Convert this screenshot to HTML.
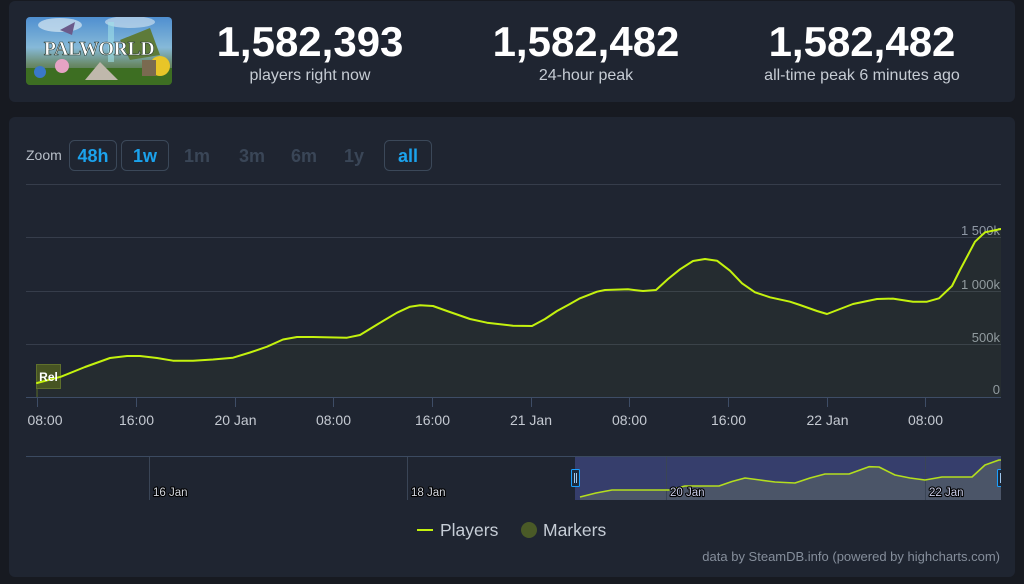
<!DOCTYPE html>
<html><head><meta charset="utf-8"><style>
html,body{margin:0;padding:0;background:#171a21;width:1024px;height:584px;overflow:hidden;}
svg{display:block;font-family:"Liberation Sans",sans-serif;}
</style></head><body>
<svg width="1024" height="584" viewBox="0 0 1024 584" xmlns="http://www.w3.org/2000/svg">
<defs>
<linearGradient id="sky" x1="0" y1="0" x2="0" y2="1">
<stop offset="0" stop-color="#4f8fd0"/><stop offset="0.45" stop-color="#86b9d8"/><stop offset="0.7" stop-color="#6a8a6a"/><stop offset="1" stop-color="#2f5a1e"/>
</linearGradient>
<clipPath id="imgc"><rect x="26" y="17" width="146" height="68" rx="4"/></clipPath>
<clipPath id="plot"><rect x="26" y="150" width="975" height="260"/></clipPath>
<clipPath id="nav"><rect x="26" y="456" width="975" height="45"/></clipPath>
</defs>
<rect x="0" y="0" width="1024" height="584" fill="#171a21"/>
<!-- header panel -->
<rect x="9" y="1" width="1006" height="101" rx="6" fill="#1f2531"/>
<g clip-path="url(#imgc)">
<rect x="26" y="17" width="146" height="68" fill="url(#sky)"/>
<ellipse cx="60" cy="25" rx="22" ry="7" fill="#d9e8f2" opacity="0.7"/>
<ellipse cx="130" cy="22" rx="25" ry="6" fill="#d9e8f2" opacity="0.6"/>
<rect x="108" y="22" width="6" height="40" fill="#9fe0e8" opacity="0.6"/>
<path d="M60 30 L75 22 L72 35 Z" fill="#6b5b8a"/>
<path d="M120 40 L150 28 L160 55 L130 60 Z" fill="#5e7b3a"/>
<rect x="26" y="68" width="146" height="17" fill="#3d6e22"/>
<circle cx="40" cy="72" r="6" fill="#3a78c8"/>
<circle cx="62" cy="66" r="7" fill="#e6a3c4"/>
<circle cx="160" cy="66" r="10" fill="#e8c528"/>
<path d="M85 80 L100 62 L118 80 Z" fill="#c0b8ac"/>
<rect x="142" y="60" width="14" height="16" fill="#7a6a50"/>
</g>
<text x="99" y="55" text-anchor="middle" font-family="Liberation Serif,serif" font-weight="bold" font-size="20" fill="#ffffff" stroke="#2a3a30" stroke-width="0.6" letter-spacing="-0.5">PALWORLD</text>

<g font-weight="bold" font-size="42" fill="#ffffff" text-anchor="middle">
<text x="310" y="56">1,582,393</text>
<text x="586" y="56">1,582,482</text>
<text x="862" y="56">1,582,482</text>
</g>
<g font-size="16" fill="#c6ccd4" text-anchor="middle">
<text x="310" y="80">players right now</text>
<text x="586" y="80">24-hour peak</text>
<text x="862" y="80">all-time peak 6 minutes ago</text>
</g>

<!-- chart panel -->
<rect x="9" y="117" width="1006" height="460" rx="6" fill="#1f2531"/>
<text x="26" y="160" font-size="14" fill="#b8bfc8">Zoom</text>
<g fill="none" stroke="#3b4859" stroke-width="1">
<rect x="69.5" y="140.5" width="47" height="30" rx="5"/>
<rect x="121.5" y="140.5" width="47" height="30" rx="5"/>
<rect x="384.5" y="140.5" width="47" height="30" rx="5"/>
</g>
<g font-weight="bold" font-size="18" text-anchor="middle">
<text x="93" y="162" fill="#1ba2ec">48h</text>
<text x="145" y="162" fill="#1ba2ec">1w</text>
<text x="197" y="162" fill="#3a4657">1m</text>
<text x="252" y="162" fill="#3a4657">3m</text>
<text x="304" y="162" fill="#3a4657">6m</text>
<text x="354" y="162" fill="#3a4657">1y</text>
<text x="408" y="162" fill="#1ba2ec">all</text>
</g>

<!-- gridlines -->
<g stroke="#363d4b" stroke-width="1">
<line x1="26" y1="184.5" x2="1001" y2="184.5"/>
<line x1="26" y1="237.5" x2="1001" y2="237.5"/>
<line x1="26" y1="291.5" x2="1001" y2="291.5"/>
<line x1="26" y1="344.5" x2="1001" y2="344.5"/>
</g>
<line x1="26" y1="397.5" x2="1001" y2="397.5" stroke="#3e4d66" stroke-width="1"/>
<g stroke="#3e4d66" stroke-width="1">
<line x1="37.5" y1="397" x2="37.5" y2="407"/>
<line x1="136.5" y1="397" x2="136.5" y2="407"/>
<line x1="235.5" y1="397" x2="235.5" y2="407"/>
<line x1="333.5" y1="397" x2="333.5" y2="407"/>
<line x1="432.5" y1="397" x2="432.5" y2="407"/>
<line x1="531.5" y1="397" x2="531.5" y2="407"/>
<line x1="629.5" y1="397" x2="629.5" y2="407"/>
<line x1="728.5" y1="397" x2="728.5" y2="407"/>
<line x1="827.5" y1="397" x2="827.5" y2="407"/>
<line x1="925.5" y1="397" x2="925.5" y2="407"/>
</g>
<g font-size="14" fill="#c5cad2" text-anchor="middle">
<text x="45" y="425">08:00</text>
<text x="136.5" y="425">16:00</text>
<text x="235.5" y="425">20 Jan</text>
<text x="333.5" y="425">08:00</text>
<text x="432.5" y="425">16:00</text>
<text x="531" y="425">21 Jan</text>
<text x="629.5" y="425">08:00</text>
<text x="728.5" y="425">16:00</text>
<text x="827.5" y="425">22 Jan</text>
<text x="925.5" y="425">08:00</text>
</g>
<g font-size="13" fill="#8f98a5" text-anchor="end">
<text x="1000" y="235">1 500k</text>
<text x="1000" y="289">1 000k</text>
<text x="1000" y="342">500k</text>
<text x="1000" y="394">0</text>
</g>

<!-- series -->
<g clip-path="url(#plot)">
<polygon fill="#c4f20e" fill-opacity="0.04" points="37,383 61,376.7 85,367 110,358 127,356 140,356 157,358 173,360.7 193,360.7 213,359.5 233,357.7 250,352.5 267,346.7 283,339.5 297,337 313,337 347,337.7 360,335 378,324 397,312.7 410,306.7 420,305.3 433,306 447,311 470,319 487,322.7 513,325.7 532,326 545,319 557,311 569,304.5 580,298.3 597,291.7 605,290 628,289.3 643,291 656,290 668,279 680,269.3 693,261 705,259 717,260.7 730,270.7 742,283.3 755,292.3 770,297.3 790,301.7 800,305 817,311 827,314 840,309 853,304 877,299 893,298.6 913,301.7 927,301.7 939,298.3 952,286 960,270 975,241.7 985,232.3 1001,229 1001,397 37,397"/>
<line x1="37" y1="376" x2="37" y2="397" stroke="#5a6b2a" stroke-width="1"/>
<rect x="36.5" y="364.5" width="24" height="24" fill="#4b5a22" fill-opacity="0.9" stroke="#5f702c" stroke-width="1"/>
<polyline fill="none" stroke="#c4f20e" stroke-width="2" stroke-linejoin="round" stroke-linecap="round" points="37,383 61,376.7 85,367 110,358 127,356 140,356 157,358 173,360.7 193,360.7 213,359.5 233,357.7 250,352.5 267,346.7 283,339.5 297,337 313,337 347,337.7 360,335 378,324 397,312.7 410,306.7 420,305.3 433,306 447,311 470,319 487,322.7 513,325.7 532,326 545,319 557,311 569,304.5 580,298.3 597,291.7 605,290 628,289.3 643,291 656,290 668,279 680,269.3 693,261 705,259 717,260.7 730,270.7 742,283.3 755,292.3 770,297.3 790,301.7 800,305 817,311 827,314 840,309 853,304 877,299 893,298.6 913,301.7 927,301.7 939,298.3 952,286 960,270 975,241.7 985,232.3 1001,229"/>
<text x="48.5" y="381" text-anchor="middle" font-size="12" font-weight="bold" fill="#ffffff">Rel</text>
</g>

<!-- navigator -->
<g clip-path="url(#nav)">
<rect x="575" y="456" width="426" height="44" fill="#363e6c"/>
<polygon fill="#4e5868" fill-opacity="0.9" points="580,497 596,493 612,490 640,490 669,490 685,486 700,486 719,486 732,481.5 745,478 760,480 775,482 795,483 810,478 825,474 849,474 860,470 869,466.7 879,467 895,475 910,478 925,480 942,477 972,477 985,465 999,460 1001,460 1001,500 580,500"/>
<g stroke="#3a4556" stroke-width="1">
<line x1="149.5" y1="456" x2="149.5" y2="500"/>
<line x1="407.5" y1="456" x2="407.5" y2="500"/>
<line x1="666.5" y1="456" x2="666.5" y2="500"/>
<line x1="925.5" y1="456" x2="925.5" y2="500"/>
</g>
<polyline fill="none" stroke="#b4de1e" stroke-width="1.6" stroke-linejoin="round" points="580,497 596,493 612,490 640,490 669,490 685,486 700,486 719,486 732,481.5 745,478 760,480 775,482 795,483 810,478 825,474 849,474 860,470 869,466.7 879,467 895,475 910,478 925,480 942,477 972,477 985,465 999,460 1001,460"/>
<g font-size="11.5" fill="#d4d8e0" stroke="#000000" stroke-width="2.2" stroke-linejoin="round" style="paint-order:stroke">
<text x="153" y="496">16 Jan</text>
<text x="411" y="496">18 Jan</text>
<text x="670" y="496" fill="#c9cce8">20 Jan</text>
<text x="929" y="496" fill="#c9cce8">22 Jan</text>
</g>
<g>
<rect x="571.5" y="469.5" width="8" height="17" rx="1" fill="#1c2a3c" stroke="#1a9fff" stroke-width="1"/>
<line x1="574.5" y1="473" x2="574.5" y2="483" stroke="#9fc8ef" stroke-width="1"/>
<line x1="576.5" y1="473" x2="576.5" y2="483" stroke="#9fc8ef" stroke-width="1"/>
<rect x="997.5" y="469.5" width="8" height="17" rx="1" fill="#1c2a3c" stroke="#1a9fff" stroke-width="1"/>
<line x1="1000.5" y1="473" x2="1000.5" y2="483" stroke="#9fc8ef" stroke-width="1"/>
</g>
</g>
<line x1="26" y1="456.5" x2="1001" y2="456.5" stroke="#3b4a60" stroke-width="1"/>

<!-- legend -->
<line x1="417" y1="530" x2="433" y2="530" stroke="#c4f20e" stroke-width="2"/>
<text x="440" y="536" font-size="17.5" fill="#c6cdd6">Players</text>
<circle cx="529" cy="530" r="8" fill="#4a5a27"/>
<text x="543" y="536" font-size="17.5" fill="#c6cdd6">Markers</text>
<text x="1000" y="561" text-anchor="end" font-size="13" fill="#858e9b">data by SteamDB.info (powered by highcharts.com)</text>
</svg>
</body></html>
